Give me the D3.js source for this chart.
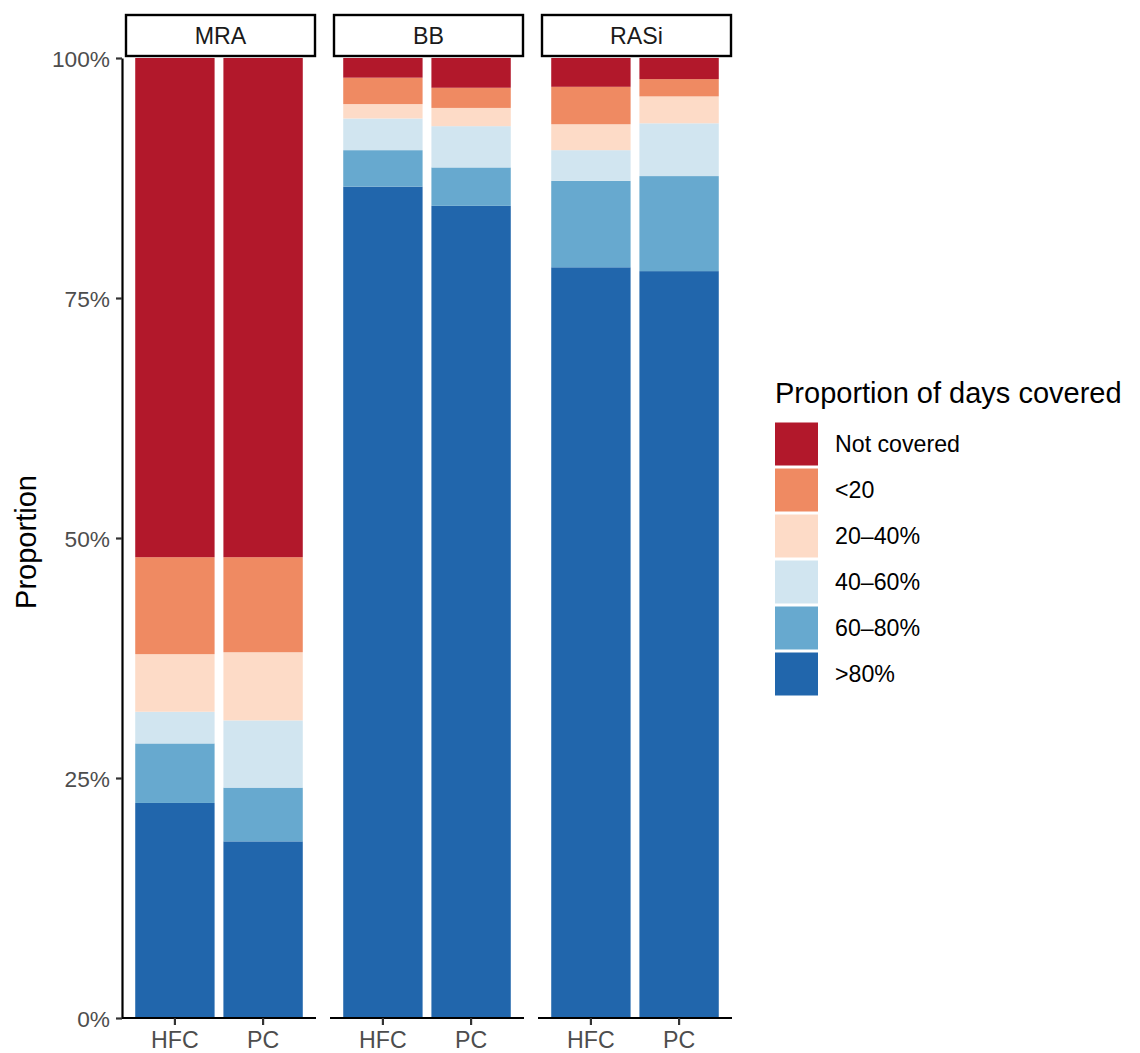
<!DOCTYPE html>
<html>
<head>
<meta charset="utf-8">
<script src="https://cdn.jsdelivr.net/npm/d3@7"></script>
<style>
  html, body { margin: 0; padding: 0; background: #fff; }
  svg { display: block; font-family: "Liberation Sans", Arial, Helvetica, sans-serif; }
</style>
</head>
<body>
<svg id="chart" width="1140" height="1053"></svg>
<script>
// Medication classes (facets) and care settings (bars within each facet)
const drugs = ["MRA", "BB", "RASi"];
const settings = ["HFC", "PC"];
// Coverage categories, stacked from the bottom up
const levels = [">80%", "60\u201380%", "40\u201360%", "20\u201340%", "<20", "Not covered"];
const levelColors = ["#2166ac", "#67a9cf", "#d1e5f0", "#fddbc7", "#ef8a62", "#b2182b"];
// Share (%) in each coverage category, ordered as in `levels`
const mraHFC  = [22.4, 6.2, 3.3, 6.0, 10.1, 52.0];
const mraPC   = [18.4, 5.6, 7.0, 7.1, 9.9, 52.0];
const bbHFC   = [86.6, 3.8, 3.3, 1.5, 2.75, 2.05];
const bbPC    = [84.6, 4.0, 4.3, 1.9, 2.1, 3.1];
const rasiHFC = [78.2, 9.0, 3.2, 2.7, 3.9, 3.0];
const rasiPC  = [77.8, 9.9, 5.5, 2.8, 1.8, 2.2];
const yTicks = [0, 0.25, 0.5, 0.75, 1];

const shares = {
  MRA: { HFC: mraHFC, PC: mraPC },
  BB: { HFC: bbHFC, PC: bbPC },
  RASi: { HFC: rasiHFC, PC: rasiPC }
};

const svg = d3.select("#chart");
const plotTop = 58, plotBottom = 1018;
const panelLeft = 122, panelW = 194, panelGap = 14;
const stripTop = 14;
const smallFont = 23.2, titleFont = 29;

const y = d3.scaleLinear().domain([0, 1]).range([plotBottom, plotTop]);

// Stack each bar's categories
const stack = d3.stack().keys(d3.range(levels.length));

drugs.forEach((drug, i) => {
  const x0 = panelLeft + i * (panelW + panelGap);
  const g = svg.append("g").attr("transform", `translate(${x0},0)`);

  const x = d3.scaleBand().domain(settings).range([0, panelW])
    .paddingInner(0.1).paddingOuter(0.15);

  const rows = settings.map(s => {
    const vals = shares[drug][s];
    const total = d3.sum(vals);
    const row = { setting: s };
    vals.forEach((v, k) => row[k] = v / total);
    return row;
  });
  const series = stack(rows);

  g.selectAll("g.layer").data(series).join("g")
    .attr("class", "layer")
    .attr("fill", d => levelColors[d.key])
    .selectAll("rect").data(d => d).join("rect")
      .attr("x", d => x(d.data.setting))
      .attr("width", x.bandwidth())
      .attr("y", d => y(d[1]))
      .attr("height", d => y(d[0]) - y(d[1]));

  // x axis
  const xAxis = g.append("g").attr("transform", `translate(0,${plotBottom})`)
    .call(d3.axisBottom(x).tickSize(7).tickSizeOuter(0));
  xAxis.select(".domain").attr("stroke", "#000").attr("stroke-width", 2.2)
    .attr("d", `M0,0H${panelW}`);
  xAxis.selectAll(".tick line").attr("stroke", "#333").attr("stroke-width", 2.2);
  xAxis.selectAll(".tick text").attr("fill", "#4d4d4d").attr("font-size", smallFont)
    .attr("dy", 0).attr("y", 30);

  // facet strip
  g.append("rect")
    .attr("x", 4).attr("y", stripTop + 1)
    .attr("width", panelW - 5).attr("height", plotTop - stripTop - 3)
    .attr("fill", "#fff").attr("stroke", "#000").attr("stroke-width", 2.4);
  g.append("text")
    .attr("x", panelW / 2 + 1.5).attr("y", (stripTop + plotTop) / 2 + 8)
    .attr("text-anchor", "middle").attr("font-size", smallFont).attr("fill", "#1a1a1a")
    .text(drug);
});

// y axis on the first panel
const yAxis = svg.append("g").attr("transform", `translate(${panelLeft},0)`)
  .call(d3.axisLeft(y).tickValues(yTicks).tickFormat(d3.format(".0%")).tickSize(6).tickSizeOuter(0));
yAxis.select(".domain").attr("stroke", "#000").attr("stroke-width", 2.2);
yAxis.selectAll(".tick line").attr("stroke", "#333").attr("stroke-width", 2.2);
yAxis.selectAll(".tick text").attr("fill", "#4d4d4d").attr("font-size", 22.7)
  .attr("x", -12).attr("dy", "0.36em");

svg.append("text")
  .attr("transform", `translate(36,${(plotTop + plotBottom) / 2 + 4}) rotate(-90)`)
  .attr("text-anchor", "middle").attr("font-size", titleFont).attr("fill", "#000")
  .text("Proportion");

// legend
const legend = svg.append("g").attr("transform", "translate(775,0)");
legend.append("text").attr("x", 0).attr("y", 403)
  .attr("font-size", titleFont).attr("fill", "#000").text("Proportion of days covered");
const legendOrder = d3.range(levels.length).reverse();
legendOrder.forEach((k, j) => {
  const top = 422.5 + j * 46;
  legend.append("rect").attr("x", 0).attr("y", top)
    .attr("width", 43).attr("height", 43).attr("fill", levelColors[k]);
  legend.append("text").attr("x", 60).attr("y", top + 21.5).attr("dy", "0.36em")
    .attr("font-size", smallFont).attr("fill", "#000").text(levels[k]);
});
</script>
</body>
</html>
